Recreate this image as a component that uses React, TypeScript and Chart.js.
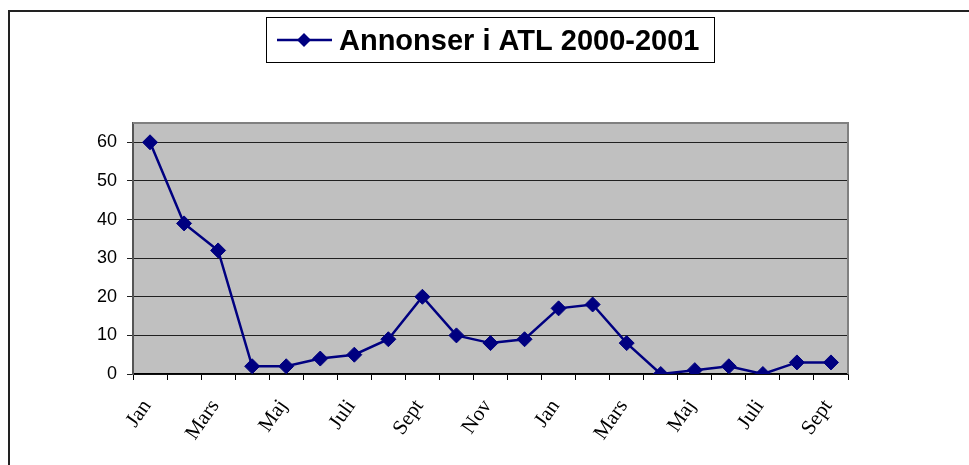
import React, { useEffect, useRef } from "react";
import { Chart, registerables } from "chart.js";

Chart.register(...registerables);

const months = [
  "Jan", "Feb", "Mars", "April", "Maj", "Juni", "Juli", "Aug", "Sept", "Okt", "Nov", "Dec",
  "Jan", "Feb", "Mars", "April", "Maj", "Juni", "Juli", "Aug", "Sept",
];
const annonser = [60, 39, 32, 2, 2, 4, 5, 9, 20, 10, 8, 9, 17, 18, 8, 0, 1, 2, 0, 3, 3];
const seriesTitle = "Annonser i ATL 2000-2001";
const yTicks = [0, 10, 20, 30, 40, 50, 60];

const NAVY = "#000080";

const decorPlugin = {
  id: "decor",
  beforeDraw(chart: any) {
    const { ctx, chartArea: a } = chart;
    ctx.save();
    ctx.fillStyle = "#fff";
    ctx.fillRect(0, 0, chart.width, chart.height);
    ctx.fillStyle = "#C0C0C0";
    ctx.fillRect(a.left, a.top, a.right - a.left, a.bottom - a.top);
    // outer chart border
    ctx.strokeStyle = "#222";
    ctx.lineWidth = 2;
    ctx.beginPath();
    ctx.moveTo(9, chart.height + 5);
    ctx.lineTo(9, 11);
    ctx.lineTo(chart.width + 5, 11);
    ctx.stroke();
    ctx.restore();
  },
  beforeDatasetsDraw(chart: any) {
    const { ctx, chartArea: a } = chart;
    ctx.save();
    ctx.strokeStyle = "#808080";
    ctx.lineWidth = 2;
    ctx.beginPath();
    ctx.moveTo(a.left, a.top);
    ctx.lineTo(a.right, a.top);
    ctx.lineTo(a.right, a.bottom);
    ctx.stroke();
    ctx.restore();
  },
  afterDraw(chart: any) {
    const { ctx } = chart;
    ctx.save();
    // legend box
    ctx.strokeStyle = "#000";
    ctx.lineWidth = 1;
    ctx.strokeRect(266.5, 17.5, 448, 45);
    // marker line
    ctx.strokeStyle = NAVY;
    ctx.lineWidth = 2.5;
    ctx.beginPath();
    ctx.moveTo(277, 40);
    ctx.lineTo(332, 40);
    ctx.stroke();
    ctx.fillStyle = NAVY;
    ctx.beginPath();
    ctx.moveTo(304, 33);
    ctx.lineTo(311, 40);
    ctx.lineTo(304, 47);
    ctx.lineTo(297, 40);
    ctx.closePath();
    ctx.fill();
    // text
    ctx.fillStyle = "#000";
    ctx.font = "bold 29px 'Liberation Sans', Arial, sans-serif";
    ctx.textBaseline = "alphabetic";
    ctx.textAlign = "left";
    ctx.fillText(seriesTitle, 339, 50);
    ctx.restore();
  },
};

export default function App() {
  const ref = useRef<HTMLCanvasElement>(null);
  useEffect(() => {
    document.body.style.margin = "0";
    const chart = new Chart(ref.current!, {
      type: "line",
      data: {
        labels: months,
        datasets: [
          {
            label: seriesTitle,
            data: annonser,
            borderColor: NAVY,
            backgroundColor: NAVY,
            borderWidth: 2.5,
            pointStyle: "rectRot",
            pointRadius: 7.5,
            pointBackgroundColor: NAVY,
            pointBorderColor: NAVY,
            pointBorderWidth: 1,
            tension: 0,
          },
        ],
      },
      options: {
        animation: false,
        responsive: false,
        maintainAspectRatio: false,
        layout: { padding: { top: 123, right: 121, left: 83, bottom: 0 } },
        plugins: { legend: { display: false }, tooltip: { enabled: false } },
        scales: {
          x: {
            offset: true,
            afterFit(scale: any) {
              scale.height = 91;
            },
            grid: {
              offset: true,
              drawOnChartArea: false,
              drawTicks: true,
              tickLength: 6,
              color: "#000",
            },
            border: { color: "#000", width: 1.5 },
            ticks: {
              autoSkip: false,
              maxRotation: 55,
              minRotation: 55,
              padding: 15,
              labelOffset: -3,
              color: "#000",
              font: { family: "'Liberation Serif', 'Times New Roman', serif", size: 21 },
              callback(_v: any, i: number) {
                return i % 2 === 0 ? months[i] : "";
              },
            },
          },
          y: {
            min: 0,
            max: 65,
            afterFit(scale: any) {
              scale.width = 50;
            },
            afterBuildTicks(scale: any) {
              scale.ticks = yTicks.map((v) => ({ value: v }));
            },
            grid: {
              color: "#202020",
              lineWidth: 1,
              tickLength: 6,
            },
            border: { color: "#555", width: 2 },
            ticks: {
              padding: 10,
              color: "#000",
              font: { family: "'Liberation Sans', Arial, sans-serif", size: 18 },
            },
          },
        },
      },
      plugins: [decorPlugin],
    });
    return () => chart.destroy();
  }, []);
  return (
    <div style={{ position: "absolute", left: 0, top: 0, width: 969, height: 465 }}>
      <canvas ref={ref} width={969} height={465} style={{ display: "block" }} />
    </div>
  );
}
